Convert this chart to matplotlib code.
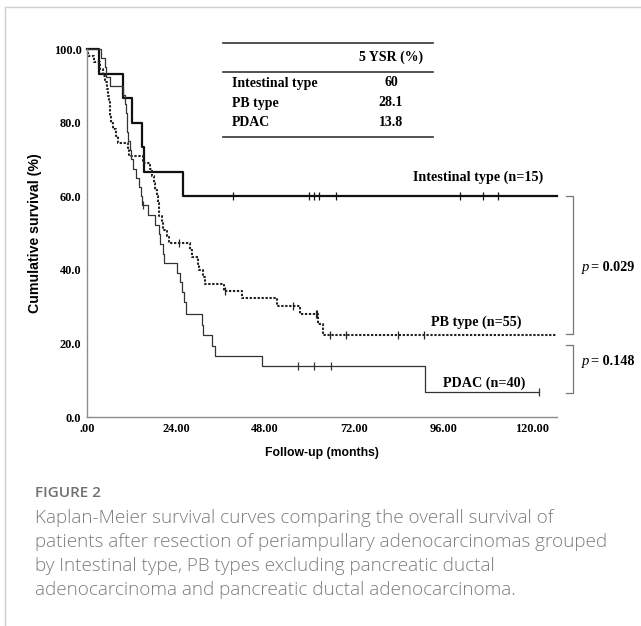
import numpy as np
import matplotlib
matplotlib.use('Agg')
import matplotlib.pyplot as plt
from matplotlib.lines import Line2D

# Kaplan-Meier steps: event times (months) and survival (%) after each event
int_t = [0, 3.2, 9.8, 12.0, 14.7, 15.4, 26.0, 126.7]
int_s = [100, 93.3, 86.7, 80.0, 73.3, 66.7, 60.0, 60.0]
int_cens = [39.4, 59.9, 61.2, 62.6, 67.1, 100.6, 106.8, 110.8]

pb_t = [0, 0.3, 1.9, 3.5, 4.2, 4.8, 5.3, 5.6, 5.9, 6.1, 6.3, 6.6, 7.0, 7.7, 8.4, 11.1, 11.3,
        15.1, 17.0, 17.5, 18.0, 18.3, 18.9, 19.1, 19.3, 19.5, 20.2, 20.5, 21.5, 22.0, 27.8,
        28.2, 29.9, 30.2, 31.4, 31.8, 36.9, 41.8, 51.2, 57.3, 62.2, 63.7, 126.7]
pb_s = [100, 98.2, 96.4, 94.5, 92.7, 90.9, 89.1, 87.3, 85.5, 83.6, 81.8, 80.0, 78.2, 76.4, 74.5,
        72.7, 70.9, 69.1, 67.3, 65.5, 63.6, 61.8, 60.0, 58.2, 56.4, 54.5, 52.7, 50.9, 49.1, 47.3,
        45.4, 43.6, 41.7, 39.9, 38.0, 36.2, 34.3, 32.3, 30.2, 28.0, 25.3, 22.3, 22.3]
pb_cens = [24.8, 37.2, 55.6, 61.8, 62.1, 65.5, 69.8, 83.9, 90.9]

pd_t = [0, 3.8, 4.8, 5.2, 6.3, 9.7, 10.2, 10.5, 10.8, 10.9, 11.1, 11.5, 11.9, 12.3, 13.2, 14.0,
        14.6, 14.9, 16.4, 18.3, 19.4, 19.8, 20.5, 20.8, 24.3, 25.1, 25.6, 26.2, 26.7, 31.0, 31.3,
        33.7, 34.5, 47.2, 91.2, 121.9]
pd_s = [100, 97.5, 95.0, 92.5, 90.0, 87.5, 85.0, 82.5, 80.0, 77.5, 75.0, 72.5, 70.0, 67.5, 65.0,
        62.5, 60.0, 57.5, 54.9, 52.3, 49.7, 47.0, 44.4, 41.8, 39.2, 36.6, 33.9, 31.3, 28.0, 25.0,
        22.2, 19.4, 16.7, 13.9, 6.9, 6.9]
pd_cens = [15.1, 56.9, 61.2, 65.8, 121.9]

group_labels = ['Intestinal type (n=15)', 'PB type (n=55)', 'PDAC (n=40)']
table_rows = ['Intestinal type', 'PB type', 'PDAC']
table_vals = ['60', '28.1', '13.8']
p_values = ['0.029', '0.148']
x_ticks = [0, 24, 48, 72, 96, 120]
x_ticklabels = ['.00', '24.00', '48.00', '72.00', '96.00', '120.00']
y_ticks = [0, 20, 40, 60, 80, 100]
y_ticklabels = ['0.0', '20.0', '40.0', '60.0', '80.0', '100.0']

W, H = 641, 626
SERIF = 'Liberation Serif'
SANS = 'Liberation Sans'


def fx(px):
    return px / W


def fy(py):
    return 1 - py / H


def level_at(t, times, surv):
    i = np.searchsorted(times, t, side='right') - 1
    return surv[i]


fig = plt.figure(figsize=(W / 100, H / 100), dpi=100)
ax = fig.add_axes([fx(87), fy(417), fx(557) - fx(87), fy(49) - fy(417)])

curves = [
    (int_t, int_s, int_cens, dict(color='#111111', lw=1.6, ls='-')),
    (pb_t, pb_s, pb_cens, dict(color='#222222', lw=1.5, ls=(0, (1.1, 0.8)))),
    (pd_t, pd_s, pd_cens, dict(color='#333333', lw=0.9, ls='-')),
]
for times, surv, cens, style in curves:
    ax.step(times, surv, where='post', clip_on=False, **style)
    cy = [level_at(c, times, surv) for c in cens]
    ax.plot(cens, cy, ls='none', marker='|', ms=6, mew=0.9, color=style['color'], clip_on=False)

ax.set_xlim(0, 126.7)
ax.set_ylim(0, 100)
ax.set_xticks(x_ticks)
ax.set_xticklabels(x_ticklabels)
ax.set_yticks(y_ticks)
ax.set_yticklabels(y_ticklabels)
ax.tick_params(length=0, pad=4)
for lab in ax.get_xticklabels() + ax.get_yticklabels():
    lab.set_fontfamily(SERIF)
    lab.set_fontweight('bold')
    lab.set_fontsize(8.8)
for side in ['top', 'right']:
    ax.spines[side].set_visible(False)
for side in ['left', 'bottom']:
    ax.spines[side].set_color('#8c8c8c')
    ax.spines[side].set_linewidth(1.0)

ax.set_xlabel('Follow-up (months)', family=SANS, weight='bold', fontsize=8.8, labelpad=9)
ax.set_ylabel('Cumulative survival (%)', family=SANS, weight='bold', fontsize=10.2, labelpad=8)

# curve labels
lab_style = dict(family=SERIF, weight='bold', fontsize=10.2, ha='right', va='center')
ax.text(123.0, 65.2, group_labels[0], **lab_style)
ax.text(117.0, 25.8, group_labels[1], **lab_style)
ax.text(118.1, 9.2, group_labels[2], **lab_style)

# brackets for p-values
br_x, br_w = 131.0, 1.9
for top, bot in [(60.0, 22.5), (19.6, 6.5)]:
    ax.plot([br_x - br_w, br_x, br_x, br_x - br_w], [top, top, bot, bot],
            color='#777777', lw=0.9, clip_on=False)
for yv, pv in [(40.5, p_values[0]), (15.2, p_values[1])]:
    ax.text(133.4, yv, 'p', family=SERIF, style='italic', fontsize=10.5,
            va='center', ha='left')
    ax.text(135.8, yv, '= ' + pv, family=SERIF, weight='bold', fontsize=10.2,
            va='center', ha='left')

# 5-year survival table
tl, tr = fx(223), fx(433)
fig.add_artist(Line2D([tl, tr], [fy(43), fy(43)], color='#333333', lw=1.2))
fig.add_artist(Line2D([tl, tr], [fy(72), fy(72)], color='#333333', lw=1.2))
fig.add_artist(Line2D([tl, tr], [fy(137), fy(137)], color='#333333', lw=1.2))
fig.text(fx(391), fy(57), '5 YSR (%)', family=SERIF, weight='bold', fontsize=10,
         ha='center', va='center')
for yp, row, val in zip([83, 103, 122], table_rows, table_vals):
    fig.text(fx(232), fy(yp), row, family=SERIF, weight='bold', fontsize=10,
             ha='left', va='center')
    fig.text(fx(391), fy(yp), val, family=SERIF, weight='bold', fontsize=10,
             ha='center', va='center')

# frame around the figure panel
fig.add_artist(Line2D([fx(4.5), fx(4.5)], [fy(7), 0], color='#cfcfcf', lw=1.0))
fig.add_artist(Line2D([fx(4.5), 1], [fy(7), fy(7)], color='#cfcfcf', lw=1.0))

# caption
fig.text(fx(35), fy(493), 'FIGURE 2', family='Open Sans', weight='semibold', fontsize=11,
         color='#707070', ha='left', va='center')
caption = ['Kaplan-Meier survival curves comparing the overall survival of',
           'patients after resection of periampullary adenocarcinomas grouped',
           'by Intestinal type, PB types excluding pancreatic ductal',
           'adenocarcinoma and pancreatic ductal adenocarcinoma.']
for i, line in enumerate(caption):
    fig.text(fx(35), fy(518 + 24 * i), line, family='Open Sans', weight='light',
             fontsize=13.6, color='#7c7c7c', ha='left', va='center')

fig.savefig('out.png', dpi=100)
